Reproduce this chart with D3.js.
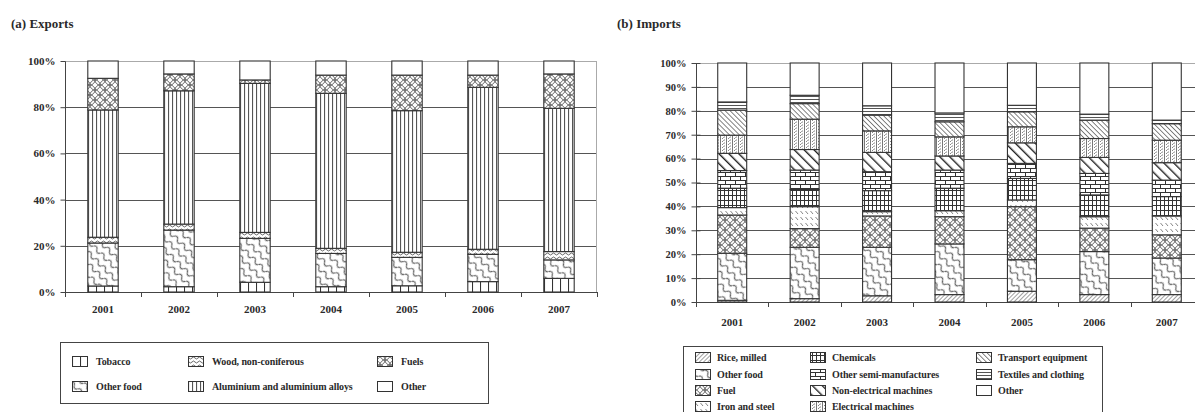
<!DOCTYPE html>
<html>
<head>
<meta charset="utf-8">
<script src="https://cdn.jsdelivr.net/npm/d3@7"></script>
<style>
  body { margin: 0; background: #fff; }
  text { font-family: "Liberation Serif", "Times New Roman", serif; font-weight: bold; fill: #2a2a2a; }
</style>
</head>
<body>
<div id="container"></div>
<script>
// years shared by both panels
const years = ['2001', '2002', '2003', '2004', '2005', '2006', '2007'];

// exports shares (%), one array per product, bottom to top
const exportSeries = ['Tobacco', 'Other food', 'Wood, non-coniferous', 'Aluminium and aluminium alloys', 'Fuels', 'Other'];
const expTobacco   = [2.6, 2.3, 4.2, 2.3, 2.7, 4.5, 5.9];
const expOtherFood = [18.6, 24.5, 19.0, 14.4, 12.3, 11.8, 8.0];
const expWood      = [2.5, 2.6, 2.6, 2.2, 2.2, 2.2, 3.6];
const expAluminium = [55.1, 57.7, 64.5, 67.1, 61.3, 70.1, 62.0];
const expFuels     = [13.7, 7.3, 1.5, 7.9, 15.4, 5.3, 14.9];
const expOther     = [7.5, 5.6, 8.2, 6.1, 6.1, 6.1, 5.6];

// imports shares (%), bottom to top
const importSeries = ['Rice, milled', 'Other food', 'Fuel', 'Iron and steel', 'Chemicals', 'Other semi-manufactures',
                      'Non-electrical machines', 'Electrical machines', 'Transport equipment', 'Textiles and clothing', 'Other'];
const impRice      = [0.7, 1.4, 2.6, 3.1, 4.5, 3.1, 3.1];
const impOtherFood = [19.7, 21.5, 20.3, 21.2, 13.2, 18.0, 15.3];
const impFuel      = [16.0, 7.8, 13.1, 11.4, 22.2, 9.8, 9.7];
const impIron      = [3.1, 9.2, 1.8, 2.5, 2.8, 4.8, 7.9];
const impChemicals = [8.1, 7.2, 8.8, 9.4, 9.0, 9.1, 8.1];
const impSemi      = [7.4, 8.1, 7.9, 7.6, 6.3, 9.0, 6.9];
const impNonElec   = [7.2, 8.6, 8.1, 5.9, 8.6, 6.7, 7.3];
const impElec      = [7.6, 12.7, 9.0, 8.0, 6.7, 7.9, 9.4];
const impTransport = [10.5, 6.5, 6.6, 6.3, 6.3, 7.7, 6.9];
const impTextiles  = [3.4, 3.5, 3.9, 3.7, 2.7, 2.5, 1.5];
const impOther     = [16.3, 13.5, 17.9, 20.9, 17.7, 21.4, 23.9];

const exportTicks = [0, 20, 40, 60, 80, 100];
const importTicks = [0, 10, 20, 30, 40, 50, 60, 70, 80, 90, 100];

const width = 1195;
const height = 412;

const svg = d3.select('#container')
              .append('svg')
              .attr('width', width)
              .attr('height', height);

const defs = svg.append('defs');

// helper to build a fill pattern
function makePattern(id, w, h, draw, transform) {
    const p = defs.append('pattern')
                  .attr('id', id)
                  .attr('patternUnits', 'userSpaceOnUse')
                  .attr('width', w)
                  .attr('height', h);
    if (transform) p.attr('patternTransform', transform);
    p.append('rect').attr('width', w).attr('height', h).attr('fill', '#fff');
    draw(p);
}

const ink = '#333';

makePattern('p-vert-wide', 8, 8, (p) => {
    p.append('line').attr('x1', 0.5).attr('x2', 0.5).attr('y1', 0).attr('y2', 8).attr('stroke', ink).attr('stroke-width', 1.1);
});
makePattern('p-vert-dense', 4, 4, (p) => {
    p.append('line').attr('x1', 0.5).attr('x2', 0.5).attr('y1', 0).attr('y2', 4).attr('stroke', '#555').attr('stroke-width', 1.2);
});
makePattern('p-wave', 10, 8, (p) => {
    p.append('path').attr('d', 'M0,4 Q2.5,0 5,4 T10,4').attr('fill', 'none').attr('stroke', '#555').attr('stroke-width', 1.1);
}, 'rotate(45)');
makePattern('p-wave-small', 6, 4, (p) => {
    p.append('path').attr('d', 'M0,2 Q1.5,0 3,2 T6,2').attr('fill', 'none').attr('stroke', '#555').attr('stroke-width', 0.9);
});
makePattern('p-lattice', 10, 10, (p) => {
    [[0, 0], [10, 0], [0, 10], [10, 10], [5, 5]].forEach((c) => {
        p.append('circle').attr('cx', c[0]).attr('cy', c[1]).attr('r', 5)
         .attr('fill', 'none').attr('stroke', '#666').attr('stroke-width', 1);
    });
});
makePattern('p-diag-up', 3, 3, (p) => {
    p.append('line').attr('x1', 0).attr('x2', 0).attr('y1', 0).attr('y2', 3).attr('stroke', '#444').attr('stroke-width', 1);
}, 'rotate(45)');
makePattern('p-iron', 5, 6, (p) => {
    p.append('line').attr('x1', 0.5).attr('y1', 1).attr('x2', 3).attr('y2', 4).attr('stroke', '#777').attr('stroke-width', 0.9);
});
makePattern('p-grid', 4, 5, (p) => {
    p.append('line').attr('x1', 0.5).attr('x2', 0.5).attr('y1', 0).attr('y2', 5).attr('stroke', ink).attr('stroke-width', 1);
    p.append('line').attr('x1', 0).attr('x2', 4).attr('y1', 0.5).attr('y2', 0.5).attr('stroke', ink).attr('stroke-width', 1);
});
makePattern('p-brick', 10, 8, (p) => {
    p.append('path').attr('d', 'M0,0.5 H10 M0,4.5 H10 M0.5,0.5 V4.5 M5.5,4.5 V8')
     .attr('fill', 'none').attr('stroke', ink).attr('stroke-width', 1);
});
makePattern('p-diag-thick', 7, 7, (p) => {
    p.append('line').attr('x1', 0).attr('x2', 0).attr('y1', 0).attr('y2', 7).attr('stroke', '#222').attr('stroke-width', 2.8);
}, 'rotate(-45)');
makePattern('p-dots', 6, 3, (p) => {
    p.append('line').attr('x1', 0.5).attr('x2', 0.5).attr('y1', 0).attr('y2', 3).attr('stroke', '#777').attr('stroke-width', 1);
    p.append('rect').attr('x', 2).attr('y', 0).attr('width', 1).attr('height', 1).attr('fill', '#888');
    p.append('rect').attr('x', 4).attr('y', 1.5).attr('width', 1).attr('height', 1).attr('fill', '#888');
    p.append('rect').attr('x', 3).attr('y', 2).attr('width', 1).attr('height', 1).attr('fill', '#aaa');
});
makePattern('p-diag-down', 3.5, 3.5, (p) => {
    p.append('line').attr('x1', 0).attr('x2', 0).attr('y1', 0).attr('y2', 3.5).attr('stroke', '#333').attr('stroke-width', 1.2);
}, 'rotate(-45)');
makePattern('p-horiz', 4, 3, (p) => {
    p.append('line').attr('x1', 0).attr('x2', 4).attr('y1', 0.5).attr('y2', 0.5).attr('stroke', '#555').attr('stroke-width', 1);
});

const exportFills = ['p-vert-wide', 'p-wave', 'p-wave-small', 'p-vert-dense', 'p-lattice', null];
const importFills = ['p-diag-up', 'p-wave', 'p-lattice', 'p-iron', 'p-grid', 'p-brick',
                     'p-diag-thick', 'p-dots', 'p-diag-down', 'p-horiz', null];

function fillOf(id) {
    return id ? `url(#${id})` : '#fff';
}

// draw one stacked percentage panel
function drawPanel(opt) {
    const g = svg.append('g');

    const x = d3.scaleBand().domain(years).range([opt.left, opt.right]).paddingInner(0.6).paddingOuter(0.3);
    const xEdges = d3.scaleLinear().domain([0, years.length]).range([opt.left, opt.right]);
    const y = d3.scaleLinear().domain([0, 100]).range([opt.bottom, opt.top]);

    g.append('text').attr('x', opt.titleX).attr('y', 28).attr('font-size', 13).text(opt.title);

    // grid lines
    g.selectAll('.grid').data(opt.ticks.filter((t) => t > 0)).enter()
     .append('line')
     .attr('x1', opt.left).attr('x2', opt.right)
     .attr('y1', (d) => Math.round(y(d)) + 0.5).attr('y2', (d) => Math.round(y(d)) + 0.5)
     .attr('stroke', (d) => d === 100 ? '#aaa' : '#555').attr('stroke-width', 1);

    // right frame
    g.append('line').attr('x1', opt.right - 0.5).attr('x2', opt.right - 0.5)
     .attr('y1', opt.top).attr('y2', opt.bottom).attr('stroke', '#aaa');

    // y axis
    const yAxis = d3.axisLeft(y).tickValues(opt.ticks).tickFormat((d) => d + '%').tickSize(5).tickPadding(opt.tickPad);
    const ya = g.append('g').attr('transform', `translate(${opt.left + 0.5},0)`).call(yAxis);
    ya.selectAll('text').attr('font-size', opt.tickFont).attr('font-family', '"Liberation Serif", serif')
      .attr('font-weight', 'bold').attr('fill', '#2a2a2a');
    ya.selectAll('.tick line').attr('stroke', '#444').attr('x2', -5).attr('x1', opt.crossTicks ? 4 : 0);
    ya.select('.domain').attr('stroke', '#444').attr('d', `M0,${opt.top + 0.5}V${opt.bottom + 0.5}`);

    // x axis baseline and ticks at band edges
    g.append('line').attr('x1', opt.left).attr('x2', opt.right)
     .attr('y1', opt.bottom + 0.5).attr('y2', opt.bottom + 0.5).attr('stroke', '#444');
    g.selectAll('.xt').data(d3.range(years.length + 1)).enter()
     .append('line')
     .attr('x1', (i) => Math.round(xEdges(i)) + 0.5).attr('x2', (i) => Math.round(xEdges(i)) + 0.5)
     .attr('y1', opt.bottom).attr('y2', opt.bottom + 5).attr('stroke', '#444');
    g.selectAll('.xl').data(years).enter()
     .append('text')
     .attr('x', (d) => x(d) + x.bandwidth() / 2)
     .attr('y', opt.bottom + opt.labelGap)
     .attr('text-anchor', 'middle').attr('font-size', 11)
     .text((d) => d);

    // stacked bars
    const rows = years.map((yr, i) => {
        const r = { year: yr };
        opt.keys.forEach((k, j) => { r[k] = opt.values[j][i]; });
        return r;
    });
    const stacked = d3.stack().keys(opt.keys)(rows);
    stacked.forEach((layer, j) => {
        g.selectAll(null).data(layer).enter()
         .append('rect')
         .attr('x', (d) => x(d.data.year))
         .attr('y', (d) => y(d[1]))
         .attr('width', x.bandwidth())
         .attr('height', (d) => y(d[0]) - y(d[1]))
         .attr('fill', fillOf(opt.fills[j]))
         .attr('stroke', '#333').attr('stroke-width', 1.1);
    });

    // legend
    const lg = g.append('g');
    lg.append('rect').attr('x', opt.legend.x + 0.5).attr('y', opt.legend.y + 0.5)
      .attr('width', opt.legend.w).attr('height', opt.legend.h)
      .attr('fill', '#fff').attr('stroke', '#444');
    opt.keys.forEach((k, j) => {
        const col = Math.floor(j / opt.legend.perCol);
        const row = j % opt.legend.perCol;
        const sx = opt.legend.cols[col];
        const sy = opt.legend.rowY[row];
        lg.append('rect').attr('x', sx + 0.5).attr('y', sy - 8.5).attr('width', 15).attr('height', 10)
          .attr('fill', fillOf(opt.fills[j])).attr('stroke', '#333');
        lg.append('text').attr('x', sx + opt.legend.textGap).attr('y', sy)
          .attr('font-size', 10).attr('letter-spacing', -0.1).text(k);
    });
}

drawPanel({
    title: '(a) Exports', titleX: 11,
    left: 65, right: 597, top: 61, bottom: 292, labelGap: 21,
    ticks: exportTicks, tickFont: 11, tickPad: 5, crossTicks: false,
    keys: exportSeries,
    values: [expTobacco, expOtherFood, expWood, expAluminium, expFuels, expOther],
    fills: exportFills,
    legend: { x: 60, y: 342, w: 428, h: 61, perCol: 2, cols: [72, 188, 377], rowY: [365, 390], textGap: 24 }
});

drawPanel({
    title: '(b) Imports', titleX: 617,
    left: 696, right: 1203, top: 63, bottom: 302, labelGap: 24,
    ticks: importTicks, tickFont: 10.5, tickPad: 5, crossTicks: true,
    keys: importSeries,
    values: [impRice, impOtherFood, impFuel, impIron, impChemicals, impSemi, impNonElec, impElec, impTransport, impTextiles, impOther],
    fills: importFills,
    legend: { x: 683, y: 346, w: 419, h: 80, perCol: 4, cols: [695, 810, 976], rowY: [361, 378, 394, 410], textGap: 22 }
});
</script>
</body>
</html>
